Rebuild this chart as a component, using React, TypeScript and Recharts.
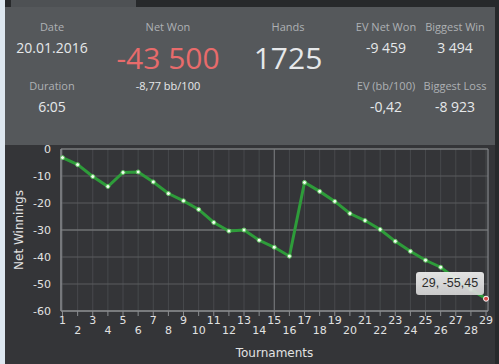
import React from "react"
import {
  LineChart,
  Line,
  XAxis,
  YAxis,
  CartesianGrid,
  Tooltip,
  ReferenceLine,
  ReferenceArea,
} from "recharts"

// tournament numbers
const tournaments = [
  1, 2, 3, 4, 5, 6, 7, 8, 9, 10, 11, 12, 13, 14, 15,
  16, 17, 18, 19, 20, 21, 22, 23, 24, 25, 26, 27, 28, 29,
]

// cumulative net winnings (thousands)
const netWinnings = [
  -3.2, -5.8, -10.2, -13.9, -8.7, -8.5, -12.2, -16.5, -19.2, -22.4,
  -27.2, -30.4, -30.0, -33.8, -36.4, -39.7, -12.4, -15.7, -19.4, -23.9,
  -26.5, -29.8, -34.2, -37.9, -41.2, -43.8, -48.0, -52.0, -55.45,
]

const yTicks = [0, -10, -20, -30, -40, -50, -60]

// header stats
const statsTop = [
  { label: "Date", value: "20.01.2016", x: 52 },
  { label: "EV Net Won", value: "-9 459", x: 386 },
  { label: "Biggest Win", value: "3 494", x: 455 },
]
const statsBottom = [
  { label: "Duration", value: "6:05", x: 52 },
  { label: "EV (bb/100)", value: "-0,42", x: 386 },
  { label: "Biggest Loss", value: "-8 923", x: 455 },
]

const data = tournaments.map((t, i) => ({
  t,
  net: netWinnings[i],
}))

const LABEL = "#aeb1b4"
const VALUE = "#e6e8ea"
const FONT = "'Open Sans', 'Noto Sans', sans-serif"
const AXIS_FONT = "'DejaVu Sans', Verdana, sans-serif"

function XTick(props: any) {
  const { x, y, payload } = props
  const even = payload.value % 2 === 0
  const axisY = y - 8
  return (
    <g>
      <line x1={x} y1={axisY} x2={x} y2={axisY + 5} stroke="#8a8c8f" />
      <text
        x={x}
        y={axisY + (even ? 20 : 10)}
        fill="#e2e2e2"
        fontSize={11}
        fontFamily={AXIS_FONT}
        textAnchor="middle"
        dominantBaseline="middle"
      >
        {payload.value}
      </text>
    </g>
  )
}

function TipBox(props: any) {
  const { payload } = props
  if (!payload || !payload.length) return null
  const p = payload[0].payload
  return (
    <div
      style={{
        width: 68,
        height: 23,
        boxSizing: "border-box",
        borderRadius: 3,
        background: "linear-gradient(#f2f2f2, #d6d6d6)",
        opacity: 0.92,
        color: "#2a2a2a",
        fontFamily: "'Liberation Sans', Arial, sans-serif",
        fontSize: 12.5,
        lineHeight: "23px",
        textAlign: "center",
      }}
    >
      {p.t}, {String(p.net).replace(".", ",")}
    </div>
  )
}

export default function App() {
  return (
    <div
      style={{
        position: "absolute",
        left: 0,
        top: 0,
        width: 499,
        height: 364,
        background: "#27292b",
        overflow: "hidden",
        fontFamily: FONT,
      }}
    >
      {/* left light strip */}
      <div style={{ position: "absolute", left: 0, top: 0, width: 5, height: 364, background: "#dde7f0" }} />
      {/* tab */}
      <div style={{ position: "absolute", left: 11, top: 0, width: 125, height: 7, background: "#4e5154" }} />

      {/* stats panel */}
      <div style={{ position: "absolute", left: 5, top: 7, width: 490, height: 138, background: "#55585b" }} />
      {statsTop.map((s) => (
        <React.Fragment key={s.label}>
          <div style={{ position: "absolute", left: s.x - 50, top: 19, width: 100, textAlign: "center", fontSize: 11, color: LABEL }}>
            {s.label}
          </div>
          <div style={{ position: "absolute", left: s.x - 50, top: 38, width: 100, textAlign: "center", fontSize: 14, color: VALUE }}>
            {s.value}
          </div>
        </React.Fragment>
      ))}
      {statsBottom.map((s) => (
        <React.Fragment key={s.label}>
          <div style={{ position: "absolute", left: s.x - 50, top: 78, width: 100, textAlign: "center", fontSize: 11, color: LABEL }}>
            {s.label}
          </div>
          <div style={{ position: "absolute", left: s.x - 50, top: 97, width: 100, textAlign: "center", fontSize: 14, color: VALUE }}>
            {s.value}
          </div>
        </React.Fragment>
      ))}
      <div style={{ position: "absolute", left: 98, top: 19, width: 140, textAlign: "center", fontSize: 11, color: LABEL }}>Net Won</div>
      <div style={{ position: "absolute", left: 88, top: 38, width: 160, textAlign: "center", fontSize: 30, color: "#e86b6b", lineHeight: "40px" }}>
        -43 500
      </div>
      <div style={{ position: "absolute", left: 98, top: 78, width: 140, textAlign: "center", fontSize: 11, color: VALUE }}>-8,77 bb/100</div>
      <div style={{ position: "absolute", left: 238, top: 19, width: 100, textAlign: "center", fontSize: 11, color: LABEL }}>Hands</div>
      <div style={{ position: "absolute", left: 218, top: 38, width: 140, textAlign: "center", fontSize: 30, color: VALUE, lineHeight: "40px" }}>
        1725
      </div>

      {/* chart panel */}
      <div style={{ position: "absolute", left: 5, top: 145, width: 490, height: 219, background: "#343538" }} />
      <div style={{ position: "absolute", left: 5, top: 141, width: 490, height: 223 }}>
        <LineChart
          width={490}
          height={223}
          data={data}
          margin={{ top: 8, right: 7, left: 0, bottom: 0 }}
        >
          <CartesianGrid stroke="#47494c" horizontal={false} />
          <CartesianGrid stroke="#5a5c5f" vertical={false} />
          <XAxis
            dataKey="t"
            type="number"
            domain={[0.9, 29.13]}
            ticks={tournaments}
            interval={0}
            height={53}
            axisLine={{ stroke: "#8a8c8f" }}
            tickLine={false}
            tick={<XTick />}
            label={{
              value: "Tournaments",
              position: "insideBottom",
              offset: 7,
              fill: "#e2e2e2",
              fontSize: 12,
              fontFamily: AXIS_FONT,
            }}
          />
          <YAxis
            type="number"
            domain={[-60, 0]}
            ticks={yTicks}
            interval={0}
            width={56}
            axisLine={{ stroke: "#8a8c8f" }}
            tickLine={false}
            tickMargin={4}
            tick={{ fill: "#e2e2e2", fontSize: 11, fontFamily: AXIS_FONT }}
            label={{
              value: "Net Winnings",
              angle: -90,
              position: "insideLeft",
              offset: 14,
              style: { textAnchor: "middle" },
              fill: "#e2e2e2",
              fontSize: 12,
              fontFamily: AXIS_FONT,
            }}
          />
          <ReferenceArea
            x1={0.9}
            x2={29.13}
            y1={-60}
            y2={0}
            stroke="#8a8c8f"
            fill="none"
          />
          <ReferenceLine x={15} stroke="#7a7c7f" />
          <ReferenceLine y={-30} stroke="#7a7c7f" />
          <Tooltip
            defaultIndex={28}
            active
            cursor={false}
            position={{ x: 411, y: 131 }}
            content={<TipBox />}
            isAnimationActive={false}
            wrapperStyle={{ outline: "none" }}
          />
          <Line
            dataKey="net"
            stroke="#2e9c3a"
            strokeWidth={3}
            dot={{ r: 2, fill: "#f2fff2", stroke: "#5fbf5f", strokeWidth: 1 }}
            activeDot={{ r: 2.5, fill: "#d84848", stroke: "#ffffff", strokeWidth: 1 }}
            isAnimationActive={false}
          />
        </LineChart>
      </div>
    </div>
  )
}
